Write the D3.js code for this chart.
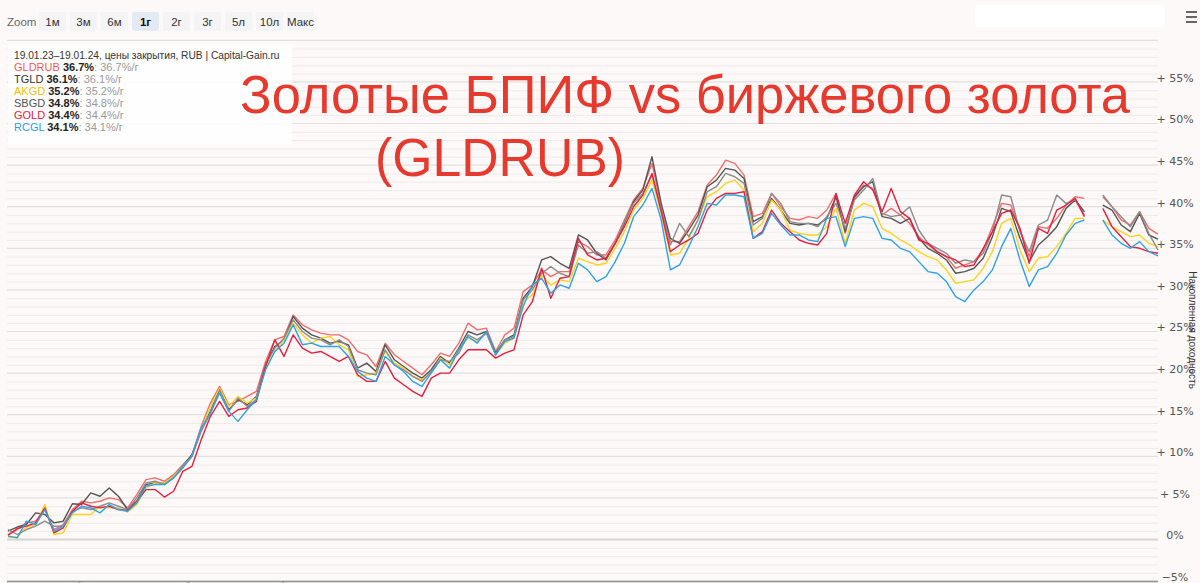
<!DOCTYPE html>
<html><head><meta charset="utf-8">
<script src="https://cdn.jsdelivr.net/npm/d3@7"></script>
<style>
body{margin:0;background:#fcf9f8;}
svg{display:block;font-family:"Liberation Sans",Arial,sans-serif;}
</style>
</head><body>
<svg id="c" width="1200" height="583"></svg>
<script>
const seriesNames = ["GLDRUB","TGLD","AKGD","SBGD","GOLD","RCGL"];
const seriesColors = ["#f26d6d","#555555","#ffd21f","#8c8c8c","#e8203f","#2ea3e8"];
const legendColors = ["#f05a5a","#333333","#f2c200","#555555","#e8203f","#2e9ee0"];
const lastValues = ["36.7%","36.1%","35.2%","34.8%","34.4%","34.1%"];
const annualValues = ["36.7%/г","36.1%/г","35.2%/г","34.8%/г","34.4%/г","34.1%/г"];
const zoomButtons = ["1м","3м","6м","1г","2г","3г","5л","10л","Макс"];
const selectedButton = "1г";
const yTicks = [-5,0,5,10,15,20,25,30,35,40,45,50,55];
const xTickIdx = [7.8, 19.6, 29.9];

const GLDRUB = [0.6,1.2,2.0,2.2,3.6,1.2,1.8,3.6,4.6,4.4,
4.6,5.0,4.8,3.8,5.4,7.2,7.4,7.0,7.8,9.0,
10.2,13.6,16.4,18.4,16.2,16.6,17.2,17.8,21.4,24.0,
24.4,27.0,25.8,25.2,24.8,24.6,24.6,24.0,22.6,22.2,
20.8,23.6,22.2,21.4,20.6,19.8,21.0,22.4,22.0,23.6,
26.0,25.2,25.4,22.6,24.6,25.4,29.8,30.6,32.4,31.6,
32.2,32.2,35.8,35.2,34.2,34.2,36.0,38.4,40.8,42.2,
45.2,40.0,35.8,35.8,37.6,39.4,42.6,43.8,45.6,45.2,
43.8,38.8,39.2,41.6,40.0,38.6,38.4,38.8,38.6,39.6,
41.6,36.8,41.0,42.6,42.2,39.0,39.8,39.0,38.0,36.4,
35.4,34.6,34.0,32.6,33.0,33.4,34.8,37.6,40.4,40.2,
37.2,34.0,37.6,37.4,38.6,40.2,41.2,41.0,null,41.2,
40.0,38.4,37.8,39.4,37.4,36.7];
const TGLD = [1.0,1.5,1.8,3.2,3.0,2.0,2.2,4.3,4.2,5.6,
5.2,6.2,5.2,3.6,4.6,6.6,6.8,6.8,7.6,8.8,
10.2,13.2,15.4,18.0,15.6,16.8,16.2,17.2,21.0,23.2,
24.0,26.8,25.4,24.6,24.2,23.6,23.8,23.4,20.6,21.2,
20.2,23.4,21.6,20.8,20.0,19.4,20.4,22.0,21.2,23.0,
25.0,24.6,25.0,22.4,24.0,24.6,29.0,30.4,33.6,34.0,
33.2,32.6,36.6,36.0,34.4,33.6,35.6,38.0,40.6,42.0,
46.0,40.4,36.2,35.6,37.2,39.0,42.4,43.2,44.6,44.4,
43.4,38.2,38.8,41.0,39.6,38.0,37.8,38.0,37.8,38.6,
41.2,37.0,41.2,42.4,43.0,38.8,38.6,38.0,38.6,36.2,
35.0,34.4,33.6,32.0,32.2,32.6,33.8,36.4,39.8,39.4,
36.2,33.4,35.4,36.4,37.6,39.8,40.8,39.4,null,40.2,
39.6,37.8,37.0,39.2,36.6,36.1];
const AKGD = [0.3,0.3,1.5,1.8,4.2,0.6,0.8,3.0,3.0,3.0,
4.0,3.8,3.8,3.3,4.2,6.2,6.8,6.8,7.6,8.8,
10.0,13.2,16.0,18.2,16.0,17.2,16.4,17.0,20.6,22.6,
24.0,26.0,24.6,23.6,24.2,24.4,23.4,22.8,19.6,19.8,
20.0,22.6,21.2,20.6,19.6,19.2,20.0,21.8,21.0,22.8,
24.2,23.8,24.8,22.2,23.6,24.2,28.6,29.4,31.8,30.6,
31.2,31.0,33.8,33.4,33.0,33.2,35.0,37.0,39.6,41.0,
43.2,39.2,34.2,34.4,36.2,38.4,41.2,41.8,42.8,43.2,
42.0,37.0,38.0,40.8,39.6,37.2,36.8,36.6,36.6,37.6,
39.8,35.6,39.6,40.4,40.0,37.4,36.8,36.0,35.4,34.6,
34.0,33.6,32.4,30.8,31.0,31.2,32.6,34.6,38.0,38.6,
34.8,32.2,33.8,34.0,35.2,36.8,38.6,38.6,null,38.4,
37.6,37.0,36.4,36.6,35.6,35.2];
const SBGD = [1.2,0.6,1.2,1.6,2.2,1.6,1.6,3.4,3.8,3.6,
4.0,4.4,4.0,3.6,5.0,6.8,7.0,6.6,7.4,8.6,
10.0,13.0,15.2,18.0,15.4,17.0,16.0,16.8,21.0,23.0,
24.2,26.4,25.0,24.2,24.0,23.4,24.0,23.2,20.4,20.0,
19.8,22.8,21.0,20.4,19.6,19.0,20.2,21.6,21.4,22.4,
24.6,24.0,24.8,22.2,24.0,24.4,28.8,30.0,32.0,32.8,
32.0,31.6,35.4,34.4,34.6,33.8,35.6,38.2,40.4,41.6,
43.8,39.8,35.4,38.0,36.4,38.4,41.8,42.4,44.0,43.6,
42.8,37.8,38.6,41.6,40.4,38.2,38.0,38.0,37.6,38.8,
40.4,37.4,40.8,42.0,43.4,39.2,38.8,39.0,40.0,37.2,
35.6,35.0,34.4,33.2,33.6,33.4,34.4,37.0,41.4,41.2,
37.0,34.6,37.8,38.4,41.4,40.4,40.8,39.0,null,41.4,
40.0,38.8,37.6,39.4,36.8,34.8];
const GOLD = [0.5,1.3,1.6,2.0,3.8,0.8,1.4,3.4,4.4,4.0,
3.8,4.0,3.6,3.5,4.6,6.0,6.0,5.1,5.8,8.2,
8.8,12.0,14.8,16.6,14.8,15.6,15.8,16.6,20.8,24.0,
22.0,24.6,23.0,22.4,22.6,22.0,21.4,22.0,19.8,19.0,
19.0,21.4,19.4,18.6,17.8,17.2,19.4,20.0,20.0,21.6,
22.8,22.8,22.8,21.8,22.4,22.8,27.0,28.6,32.6,29.0,
31.4,31.6,36.2,34.2,33.6,33.8,35.6,37.6,40.0,41.4,
44.0,39.4,34.6,35.4,36.0,36.8,39.6,41.0,41.6,41.6,
41.8,36.2,37.0,39.6,38.0,37.0,36.0,35.6,35.4,36.8,
41.6,38.0,41.4,43.0,42.0,39.4,42.2,39.4,38.6,36.0,
35.6,34.6,34.0,33.6,32.8,33.0,35.0,37.0,39.2,39.6,
37.4,33.2,37.4,36.8,39.6,40.2,41.0,38.8,null,39.8,
37.6,36.4,35.2,35.0,34.6,34.4];
const RCGL = [0.4,0.2,2.2,1.8,3.6,1.0,1.6,3.2,4.0,3.8,
3.2,4.2,3.6,3.4,4.4,6.4,6.6,6.6,7.4,8.8,
10.0,13.4,15.2,17.6,15.4,14.2,15.6,16.8,20.4,22.6,
23.6,25.8,23.4,23.6,23.2,23.2,23.2,22.0,20.2,19.4,
19.0,22.0,21.0,20.2,19.0,18.4,20.0,21.6,20.6,22.8,
24.4,23.6,25.0,22.2,23.8,24.2,28.0,30.6,31.4,29.6,
30.6,30.2,33.2,32.4,31.0,31.6,33.4,35.6,38.8,40.2,
42.2,38.4,32.4,33.0,35.2,37.6,40.4,40.2,41.4,41.4,
41.2,36.2,36.8,39.2,37.8,36.6,36.6,36.0,35.8,38.6,
38.8,35.2,38.6,38.8,38.6,36.2,36.0,35.0,34.6,33.4,
32.2,32.0,31.0,29.2,28.6,30.0,31.0,32.4,35.2,37.4,
33.6,30.4,32.4,32.8,34.4,36.6,38.0,38.4,null,38.4,
36.6,35.6,35.0,35.8,34.6,34.1];

const seriesData = [GLDRUB, TGLD, AKGD, SBGD, GOLD, RCGL];
const N = GLDRUB.length;

const svg = d3.select("#c");
const x = d3.scaleLinear().domain([0, N-1]).range([8, 1158]);
const y = d3.scaleLinear().domain([-5, 60]).range([581.1, 40.3]);

// background
svg.append("rect").attr("width",1200).attr("height",583).attr("fill","#fcf9f8");

// minor grid
const minor = d3.range(-5, 61, 1).filter(v => v % 5 !== 0);
svg.append("g").selectAll("line").data(minor).join("line")
  .attr("x1",7).attr("x2",1158).attr("y1",d=>y(d)+0.5).attr("y2",d=>y(d)+0.5)
  .attr("stroke","#efebea").attr("stroke-width",1);
const major = d3.range(-5, 61, 5);
svg.append("g").selectAll("line").data(major).join("line")
  .attr("x1",7).attr("x2",1158).attr("y1",d=>y(d)).attr("y2",d=>y(d))
  .attr("stroke",d=> d===0 ? "#d6d4d4" : "#e3e0df").attr("stroke-width",d=>d===0?2:1.2);

// bottom axis line
svg.append("line").attr("x1",7).attr("x2",1158).attr("y1",581.5).attr("y2",581.5)
  .attr("stroke","#8f8f8f").attr("stroke-width",1.5);
svg.append("g").selectAll("line").data(xTickIdx).join("line")
  .attr("x1",d=>x(d)).attr("x2",d=>x(d)).attr("y1",581).attr("y2",583)
  .attr("stroke","#8f8f8f").attr("stroke-width",1.5);

// y axis labels
const yAxis = d3.axisRight(y).tickValues(yTicks)
  .tickFormat(d => d > 0 ? "+ " + d + "%" : (d === 0 ? "0%" : "\u2212" + Math.abs(d) + "%"))
  .tickSize(0);
const ga = svg.append("g").attr("transform","translate(1158,0)").call(yAxis);
ga.select(".domain").remove();
ga.selectAll("text").attr("x",17).attr("dy","-0.05em").attr("text-anchor","middle")
  .attr("fill","#555").style("font-size","11px").style("font-family","'DejaVu Sans',Verdana,sans-serif");

// axis title (rotated)
svg.append("text").attr("transform","translate(1189,330) rotate(90)")
  .attr("text-anchor","middle").attr("fill","#333").style("font-size","10px")
  .style("font-family","'Liberation Sans',Arial,sans-serif")
  .text("Накопленная доходность");

// lines
const line = d3.line().defined(d => d != null).x((d,i)=>x(i)).y(d=>y(d));
seriesData.forEach((s, k) => {
  svg.append("path").datum(s).attr("d", line).attr("fill","none")
    .attr("stroke", seriesColors[k]).attr("stroke-width",1.4).attr("stroke-linejoin","round");
});

// legend box
svg.append("rect").attr("x",8).attr("y",44).attr("width",284).attr("height",100)
  .attr("fill","#ffffff").attr("opacity",0.85);
const lf = "'Liberation Sans',Arial,sans-serif";
svg.append("text").attr("x",14).attr("y",59).attr("fill","#333")
  .style("font-size","10.2px").style("font-family",lf)
  .text("19.01.23–19.01.24, цены закрытия, RUB | Capital-Gain.ru");
seriesNames.forEach((n,k) => {
  const t = svg.append("text").attr("x",14).attr("y",71 + k*12)
    .style("font-size","11px").style("font-family",lf);
  t.append("tspan").attr("fill",legendColors[k]).text(n + " ");
  t.append("tspan").attr("fill","#222").attr("font-weight","bold").text(lastValues[k]);
  t.append("tspan").attr("fill","#9a9a9a").text(": " + annualValues[k]);
});

// zoom buttons
svg.append("text").attr("x",7).attr("y",26).attr("fill","#666")
  .style("font-size","11.5px").style("font-family",lf).text("Zoom");
const bg = svg.append("g");
zoomButtons.forEach((b,k) => {
  const bx = 39 + k*31;
  const sel = b === selectedButton;
  bg.append("rect").attr("x",bx).attr("y",12).attr("width",27).attr("height",19).attr("rx",2)
    .attr("fill", sel ? "#e4eaf4" : "#f4f4f6");
  bg.append("text").attr("x",bx+13.5).attr("y",26).attr("text-anchor","middle")
    .attr("fill", sel ? "#111" : "#333").attr("font-weight", sel ? "bold" : "normal")
    .style("font-size","11.5px").style("font-family",lf).text(b);
});

// top right input box + menu icon
svg.append("rect").attr("x",975).attr("y",5).attr("width",190).attr("height",22).attr("rx",4).attr("fill","#ffffff");
[12,17,22].forEach(yy => svg.append("line").attr("x1",1186).attr("x2",1197).attr("y1",yy).attr("y2",yy)
  .attr("stroke","#666").attr("stroke-width",2));

// title
const tf = "'Liberation Sans',Arial,sans-serif";
svg.append("text").attr("x",240).attr("y",113).attr("fill","#e63a2e")
  .style("font-size","53px").style("font-family",tf)
  .attr("textLength",890).attr("lengthAdjust","spacingAndGlyphs")
  .text("Золотые БПИФ vs биржевого золота");
svg.append("text").attr("x",375).attr("y",176).attr("fill","#e63a2e")
  .style("font-size","53px").style("font-family",tf)
  .attr("textLength",250).attr("lengthAdjust","spacingAndGlyphs")
  .text("(GLDRUB)");
</script>
</body></html>
